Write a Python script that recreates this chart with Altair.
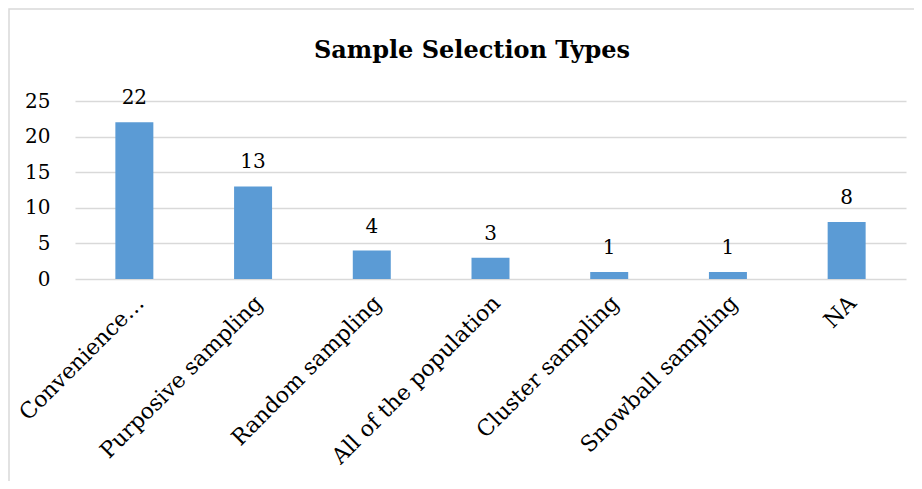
import altair as alt
import pandas as pd

categories = ["Convenience…", "Purposive sampling", "Random sampling",
              "All of the population", "Cluster sampling", "Snowball sampling", "NA"]
counts = [22, 13, 4, 3, 1, 1, 8]
y_ticks = [0, 5, 10, 15, 20, 25]
title_text = ["Sample Selection Types"]

df = pd.DataFrame({"category": categories, "count": counts})

FONT = "DejaVu Serif"

x = alt.X("category:N", sort=categories, title=None,
          scale=alt.Scale(paddingInner=0.68, paddingOuter=0.34),
          axis=alt.Axis(labelAngle=-45, labelAlign="right", labelBaseline="middle",
                        labelFontSize=22, labelFont=FONT, labelColor="#000000",
                        labelPadding=20, labelOffset=6, ticks=False, domain=False,
                        grid=False, labelLimit=400))
y = alt.Y("count:Q", title=None,
          scale=alt.Scale(domain=[0, 25], nice=False),
          axis=alt.Axis(values=y_ticks, ticks=False, domain=False, grid=True,
                        gridColor="#D9D9D9", gridWidth=1.5, labelOverlap=False,
                        labelFontSize=20, labelFont=FONT, labelColor="#000000",
                        labelPadding=25))

base = alt.Chart(df)
bars = base.mark_bar(color="#5B9BD5").encode(x=x, y=y)
labels = base.mark_text(dy=-24, fontSize=20, font=FONT, color="#000000").encode(
    x=x, y=y, text="count:Q")
frame = alt.Chart(pd.DataFrame({"a": [0]})).mark_rect(
    fill=None, stroke="#D9D9D9", strokeWidth=1.5).encode(
    x=alt.value(-66), x2=alt.value(900), y=alt.value(-92), y2=alt.value(500))
title = alt.Chart(pd.DataFrame({"t": title_text})).mark_text(
    font=FONT, fontSize=24, fontWeight="bold", color="#000000",
    baseline="middle", align="center").encode(
    text="t:N", x=alt.value(397), y=alt.value(-50))

chart = alt.layer(frame, bars, labels, title).properties(
    width=831, height=178,
    autosize=alt.AutoSizeParams(type="none"),
    padding={"left": 67, "top": 93, "right": 8, "bottom": 202},
).configure_view(stroke=None)

chart.save("out.html", embed_options={"renderer": "svg", "actions": False})
